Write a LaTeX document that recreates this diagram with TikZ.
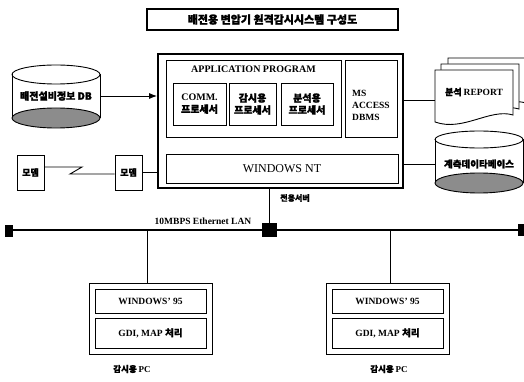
\documentclass[tikz,border=0pt]{standalone}
\usepackage{fontspec}
\setmainfont{Liberation Serif}
\newfontfamily\kr[FakeBold=1.5]{Noto Sans CJK KR}
\newcommand\krb{\kr\bfseries}
\usetikzlibrary{arrows.meta}
\begin{document}
\begin{tikzpicture}[x=1pt,y=-1pt,
  bx/.style={draw, line width=0.9pt, inner sep=0pt, align=center},
  ln/.style={line width=0.9pt},
  sq/.style={fill=black, draw=none, inner sep=0pt},
  txt/.style={inner sep=0pt, align=center},
  docpage/.pic={\draw[line width=0.9pt, fill=white] (0,0) -- (78,0) -- (78,45) .. controls (55,38) and (28,62) .. (0,52) -- cycle;}]
\useasboundingbox (0,0) rectangle (524,382);

% title
\node[bx, line width=1.6pt, minimum width=251pt, minimum height=21pt] (title) at (272.5,19.5)
  {\krb\fontsize{11}{13}\selectfont 배전용 변압기 원격감시시스템 구성도};

% server
\node[bx, line width=1.8pt, minimum width=245pt, minimum height=134pt] (server) at (280.5,121) {};
\node[bx, minimum width=175pt, minimum height=77pt] (app) at (253.5,98.5) {};
\node[txt] (apptitle) at (253.5,69) {\bfseries\fontsize{10}{12}\selectfont APPLICATION PROGRAM};
\node[bx, minimum width=53pt, minimum height=42pt, font=\bfseries\fontsize{10}{12}\selectfont] (p1) at (199.5,104)
  {COMM.\\{\krb 프로세서}};
\node[bx, minimum width=47pt, minimum height=42pt, font=\krb\fontsize{10}{12}\selectfont] (p2) at (252.5,104)
  {감시용\\프로세서};
\node[bx, minimum width=52pt, minimum height=42pt, font=\krb\fontsize{10}{12}\selectfont] (p3) at (307,104)
  {분석용\\프로세서};
\node[bx, minimum width=52pt, minimum height=77pt] (ms) at (371,98.5) {};
\node[txt, align=left, anchor=west, font=\bfseries\fontsize{9.5}{12}\selectfont] (mstext) at (352,105)
  {MS\\ACCESS\\DBMS};
\node[bx, minimum width=232pt, minimum height=29pt] (nt) at (282,168.5)
  {\fontsize{12}{14}\selectfont WINDOWS NT};
\node[txt] (srvlabel) at (295,198) {\krb\fontsize{8}{9}\selectfont 전용서버};

% left database
\draw[ln] (12,74.5) -- (12,118) (100,74.5) -- (100,118);
\draw[ln, fill=black!45] (56,118) ellipse [x radius=44pt, y radius=10pt];
\draw[ln] (56,74.5) ellipse [x radius=44pt, y radius=9.5pt];
\node[txt, minimum width=88pt, minimum height=40pt] (db) at (56,96)
  {\krb\fontsize{10}{12}\selectfont 배전설비정보 DB};
\draw[ln, -{Latex[length=8pt,width=6pt]}] (db.east) -- (db.east -| server.west);

% modems
\node[bx, minimum width=27pt, minimum height=35pt] (m1) at (30.5,172.5) {\krb\fontsize{9}{10}\selectfont 모뎀};
\node[bx, minimum width=27pt, minimum height=35pt] (m2) at (128.5,172.5) {\krb\fontsize{9}{10}\selectfont 모뎀};
\coordinate (z1) at (82,167);
\coordinate (z2) at (70,174);
\draw[ln] (m1.east |- z1) -- (z1) -- (z2) -- (m2.west |- z2);
\draw[ln] (m2.east) -- (m2.east -| server.west);

% report stack
\pic at (448,58) {docpage};
\pic at (441,64) {docpage};
\pic at (435,70) {docpage};
\node[txt, minimum width=78pt, minimum height=56pt] (report) at (474,100) {};
\node[txt] (reporttext) at (474,92) {\krb\fontsize{9}{11}\selectfont 분석 {\rmfamily\bfseries\fontsize{9.5}{11}\selectfont REPORT}};
\draw[ln] (server.east |- report.west) -- (report.west);

% measurement database
\draw[ln] (435,139.5) -- (435,183) (523,139.5) -- (523,183);
\draw[ln, fill=black!45] (479,183) ellipse [x radius=44pt, y radius=10pt];
\draw[ln] (479,139.5) ellipse [x radius=44pt, y radius=8.5pt];
\node[txt, minimum width=88pt, minimum height=36pt] (meas) at (479,164)
  {\krb\fontsize{9.5}{11}\selectfont 계측데이타베이스};
\draw[ln] (server.east |- meas.west) -- (meas.west);

% LAN
\node[sq, minimum width=8pt, minimum height=12pt] (sqL) at (9,231) {};
\node[sq, minimum width=15pt, minimum height=14pt] (hub) at (269.5,230) {};
\node[sq, minimum width=9pt, minimum height=12pt] (sqR) at (522,230) {};
\draw[line width=1.4pt] (sqL.center |- hub) -- (hub) -- (sqR.center |- hub);
\draw[ln] (server.south -| hub) -- (hub);
\node[txt] (lanlabel) at (203,221) {\bfseries\fontsize{9.5}{11}\selectfont 10MBPS Ethernet LAN};

% PCs
\node[bx, minimum width=123pt, minimum height=71pt] (pc1) at (150.5,318.5) {};
\node[bx, minimum width=111pt, minimum height=24pt] (w1) at (150.5,301)
  {\bfseries\fontsize{9.5}{11}\selectfont WINDOWS' 95};
\node[bx, minimum width=111pt, minimum height=30pt] (g1) at (150.5,333)
  {\bfseries\fontsize{9.5}{11}\selectfont GDI, MAP {\krb 처리}};
\node[txt] (l1) at (132,369) {\krb\fontsize{8.5}{10}\selectfont 감시용 {\rmfamily\bfseries\fontsize{9}{10}\selectfont PC}};
\coordinate (d1) at (147,230);
\draw[ln] (d1) -- (d1 |- pc1.north);

\node[bx, minimum width=123pt, minimum height=71pt] (pc2) at (387.5,318.5) {};
\node[bx, minimum width=111pt, minimum height=24pt] (w2) at (387.5,301)
  {\bfseries\fontsize{9.5}{11}\selectfont WINDOWS' 95};
\node[bx, minimum width=111pt, minimum height=30pt] (g2) at (387.5,333)
  {\bfseries\fontsize{9.5}{11}\selectfont GDI, MAP {\krb 처리}};
\node[txt] (l2) at (389,369) {\krb\fontsize{8.5}{10}\selectfont 감시용 {\rmfamily\bfseries\fontsize{9}{10}\selectfont PC}};
\coordinate (d2) at (390,230);
\draw[ln] (d2) -- (d2 |- pc2.north);
\end{tikzpicture}
\end{document}
